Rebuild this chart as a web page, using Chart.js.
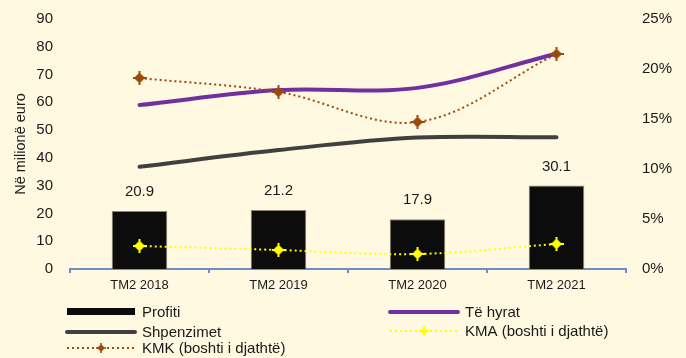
<!DOCTYPE html>
<html>
<head>
<meta charset="utf-8">
<script src="https://cdn.jsdelivr.net/npm/chart.js@4.4.1/dist/chart.umd.min.js"></script>
<style>
  html, body { margin: 0; padding: 0; background: #FEF9E0; }
  #wrap { width: 686px; height: 358px; position: relative; }
</style>
</head>
<body>
<div id="wrap"><canvas id="chart"></canvas></div>
<script>
// Q2 figures, millions of euro (left axis) and percent (right axis)
const periods = ['TM2 2018', 'TM2 2019', 'TM2 2020', 'TM2 2021'];
const profit = [20.9, 21.2, 17.9, 30.1];
const revenue = [59.0, 64.4, 65.2, 77.5];
const expenses = [36.8, 42.8, 47.3, 47.4];
const kma = [2.3, 1.9, 1.5, 2.5];
const kmk = [19.1, 17.7, 14.7, 21.5];

const FONT = '"Liberation Sans", Arial, sans-serif';
const BG = '#FEF9E0';
const TEXT = '#1A1A1A';
const AXIS = '#6B8FC4';

Chart.defaults.font.family = FONT;
Chart.defaults.color = TEXT;

// four-pointed marker: diamond with a plus through it
function starMarker(color) {
    const c = document.createElement('canvas');
    c.width = 14;
    c.height = 14;
    const g = c.getContext('2d');
    g.fillStyle = color;
    g.beginPath();
    g.moveTo(7, 1.5);
    g.lineTo(12.5, 7);
    g.lineTo(7, 12.5);
    g.lineTo(1.5, 7);
    g.closePath();
    g.fill();
    g.fillRect(6, 0, 2, 14);
    g.fillRect(0, 6, 14, 2);
    return c;
}

const kmkMarker = starMarker('#9B4A0B');
const kmaMarker = starMarker('#FFFF00');

// fixed axis box sizes; the tick padding would otherwise push the plot top down
function fixWidth(w) {
    return function (scale) {
        scale.width = w;
        scale.paddingTop = 0;
        scale.paddingBottom = 0;
    };
}

const background = {
    id: 'background',
    beforeDraw(chart) {
        const ctx = chart.ctx;
        ctx.save();
        ctx.fillStyle = BG;
        ctx.fillRect(0, 0, chart.width, chart.height);
        ctx.restore();
    }
};

// value labels above the bars
const barLabels = {
    id: 'barLabels',
    afterDatasetsDraw(chart) {
        const ctx = chart.ctx;
        const meta = chart.getDatasetMeta(0);
        ctx.save();
        ctx.font = '15px ' + FONT;
        ctx.fillStyle = TEXT;
        ctx.textAlign = 'center';
        ctx.textBaseline = 'middle';
        meta.data.forEach(function (bar, i) {
            ctx.fillText(profit[i].toFixed(1), bar.x, bar.y - 19);
        });
        ctx.restore();
    }
};

// two-column legend under the axis
const legendBox = {
    id: 'legendBox',
    afterDraw(chart) {
        const ctx = chart.ctx;
        const ds = chart.data.datasets;
        const items = [
            { d: ds[0], x: 67, y: 312, kind: 'bar' },
            { d: ds[1], x: 390, y: 312, kind: 'line' },
            { d: ds[2], x: 67, y: 332, kind: 'line' },
            { d: ds[3], x: 390, y: 331, kind: 'dots', marker: kmaMarker },
            { d: ds[4], x: 67, y: 348, kind: 'dots', marker: kmkMarker }
        ];
        ctx.save();
        items.forEach(function (it) {
            const w = 68;
            if (it.kind === 'bar') {
                ctx.fillStyle = it.d.backgroundColor;
                ctx.fillRect(it.x, it.y - 4, w, 7);
            } else {
                ctx.strokeStyle = it.d.borderColor;
                ctx.lineWidth = it.d.borderWidth;
                ctx.lineCap = it.kind === 'line' ? 'round' : 'butt';
                ctx.setLineDash(it.kind === 'dots' ? it.d.borderDash : []);
                ctx.beginPath();
                ctx.moveTo(it.x, it.y);
                ctx.lineTo(it.x + w, it.y);
                ctx.stroke();
                ctx.setLineDash([]);
                if (it.marker) {
                    ctx.drawImage(it.marker, it.x + w / 2 - 5, it.y - 5, 10, 10);
                }
            }
            ctx.font = '15px ' + FONT;
            ctx.fillStyle = TEXT;
            ctx.textAlign = 'left';
            ctx.textBaseline = 'middle';
            ctx.fillText(it.d.label, it.x + w + 7, it.y + 1);
        });
        ctx.restore();
    }
};

const config = {
    type: 'bar',
    data: {
        labels: periods,
        datasets: [{
            type: 'bar',
            label: 'Profiti',
            data: profit,
            yAxisID: 'y',
            backgroundColor: '#0C0C0C',
            borderColor: '#8C8670',
            borderWidth: 1,
            barPercentage: 0.4,
            categoryPercentage: 1,
            order: 10
        }, {
            type: 'line',
            label: 'Të hyrat',
            data: revenue,
            yAxisID: 'y',
            borderColor: '#7030A0',
            borderWidth: 4,
            borderCapStyle: 'round',
            tension: 0.35,
            pointRadius: 0,
            order: 4
        }, {
            type: 'line',
            label: 'Shpenzimet',
            data: expenses,
            yAxisID: 'y',
            borderColor: '#404040',
            borderWidth: 4,
            borderCapStyle: 'round',
            tension: 0.35,
            pointRadius: 0,
            order: 3
        }, {
            type: 'line',
            label: 'KMA (boshti i djathtë)',
            data: kma,
            yAxisID: 'y1',
            borderColor: '#FFFF00',
            borderWidth: 2,
            borderDash: [2, 3],
            tension: 0.35,
            pointStyle: kmaMarker,
            order: 2
        }, {
            type: 'line',
            label: 'KMK (boshti i djathtë)',
            data: kmk,
            yAxisID: 'y1',
            borderColor: '#9B4A0B',
            borderWidth: 2,
            borderDash: [2, 3],
            tension: 0.35,
            pointStyle: kmkMarker,
            order: 1
        }]
    },
    options: {
        responsive: true,
        maintainAspectRatio: false,
        animation: false,
        layout: { padding: { top: 19, left: 0, right: 0, bottom: 0 } },
        plugins: {
            legend: { display: false },
            tooltip: { enabled: false }
        },
        scales: {
            x: {
                offset: true,
                grid: {
                    display: true,
                    drawOnChartArea: false,
                    drawTicks: true,
                    tickLength: 4,
                    color: AXIS,
                    lineWidth: 2
                },
                border: { display: true, color: AXIS, width: 2 },
                ticks: { font: { size: 13 }, color: TEXT, padding: 5, maxRotation: 0 },
                afterFit: function (scale) { scale.height = 89; }
            },
            y: {
                position: 'left',
                min: 0,
                max: 90,
                grid: { display: false, drawTicks: false },
                border: { display: false },
                ticks: { stepSize: 10, font: { size: 15 }, color: TEXT, padding: 17 },
                title: {
                    display: true,
                    text: 'Në milionë euro',
                    font: { size: 14.5 },
                    color: TEXT,
                    padding: { top: 12, bottom: 0 }
                },
                afterFit: fixWidth(70)
            },
            y1: {
                position: 'right',
                min: 0,
                max: 25,
                grid: { display: false, drawTicks: false },
                border: { display: false },
                ticks: {
                    stepSize: 5,
                    font: { size: 15 },
                    color: TEXT,
                    padding: 16,
                    callback: function (v) { return v + '%'; }
                },
                afterFit: fixWidth(60)
            }
        }
    },
    plugins: [background, barLabels, legendBox]
};

new Chart(document.getElementById('chart'), config);
</script>
</body>
</html>
